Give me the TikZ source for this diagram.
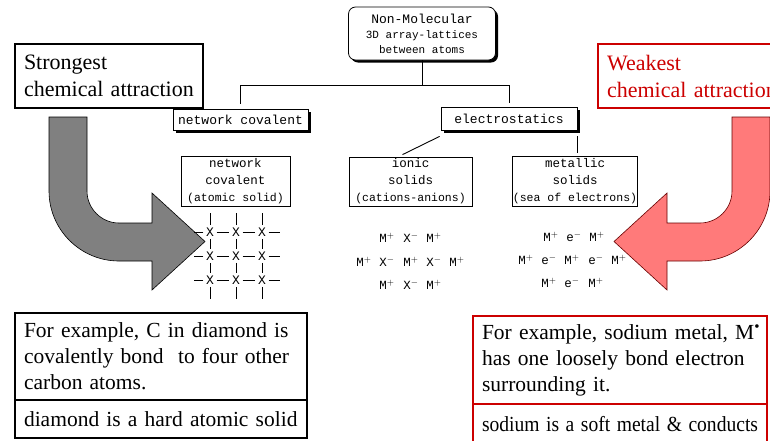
\documentclass[tikz,border=0pt]{standalone}
\usepackage{fontspec}
\setmainfont{Liberation Serif}
\newfontfamily\mono{Liberation Mono}
\usetikzlibrary{shadows}
\definecolor{alertred}{RGB}{204,0,0}
\definecolor{arrowred}{RGB}{255,122,122}
\definecolor{arrowgray}{RGB}{128,128,128}
\begin{document}
\begin{tikzpicture}[x=1pt,y=-1pt,
  shadowbox/.style={draw, fill=white, line width=0.8pt, inner sep=0pt,
    drop shadow={shadow xshift=2.5pt, shadow yshift=-2.5pt, fill=black, opacity=1}},
  catbox/.style={draw, line width=0.8pt, inner sep=0pt, align=center,
    font=\mono\fontsize{12.5}{17}\selectfont},
  headbox/.style={draw, line width=2pt, align=left, inner xsep=9pt,
    font=\fontsize{22}{27}\selectfont},
  notebox/.style={draw, line width=1.5pt, align=left, inner xsep=9pt,
    font=\fontsize{21.5}{26}\selectfont},
  lat/.style={font=\mono\fontsize{13}{13}\selectfont, inner sep=2.5pt},
  ion/.style={font=\mono\fontsize{12.5}{12.5}\selectfont, inner sep=0pt},
  bond/.style={line width=0.9pt},
  tree/.style={line width=0.9pt},
  bigarrow/.style={line width=0.6pt, line join=miter}]
\useasboundingbox (0,0) rectangle (770,440);
\clip (0,0) rectangle (770,440);

% curved block arrows
\path[bigarrow, draw=black, fill=arrowgray]
  (49,117) -- (49,191) .. controls (49,229.7) and (80.5,261) .. (119,261)
  -- (152,261) -- (152,290) -- (205,241.5) -- (152,193) -- (152,223)
  -- (119,223) .. controls (101.4,223) and (87,208.6) .. (87,191)
  -- (87,117) -- cycle;
\begin{scope}[xshift=819pt, xscale=-1]
\path[bigarrow, draw=black!60!red, fill=arrowred]
  (49,117) -- (49,191) .. controls (49,229.7) and (80.5,261) .. (119,261)
  -- (152,261) -- (152,290) -- (205,241.5) -- (152,193) -- (152,223)
  -- (119,223) .. controls (101.4,223) and (87,208.6) .. (87,191)
  -- (87,117) -- cycle;
\end{scope}

% classification tree
\node[shadowbox, rounded corners=7pt, minimum width=147pt, minimum height=53pt,
  align=center, font=\mono\fontsize{11}{15}\selectfont] (top) at (422,33.5)
  {{\fontsize{13}{15}\selectfont Non-Molecular}\\3D array-lattices\\between atoms};
\node[shadowbox, minimum width=135pt, minimum height=21pt,
  font=\mono\fontsize{13}{15}\selectfont] (nc) at (240.5,119.5) {network covalent};
\node[shadowbox, minimum width=136pt, minimum height=23pt,
  font=\mono\fontsize{13}{15}\selectfont] (es) at (509,118.5) {electrostatics};

\node[catbox, minimum width=109pt, minimum height=50pt] (ncs) at (235.5,181)
  {network\\covalent\\{\fontsize{11.5}{17}\selectfont(atomic solid)}};
\node[catbox, minimum width=123pt, minimum height=49pt] (ion) at (410.5,181.5)
  {ionic\\solids\\{\fontsize{11.5}{17}\selectfont(cations-anions)}};
\node[catbox, minimum width=124pt, minimum height=50pt] (met) at (575,181)
  {metallic\\solids\\{\fontsize{11.5}{17}\selectfont(sea of electrons)}};

\coordinate (j) at ([shift={(0,25)}]top.south);
\draw[tree] (top.south) -- (j);
\draw[tree] (nc.north |- j) -- (es.north |- j);
\draw[tree] (nc.north |- j) -- ([shift={(0,-5)}]nc.north);
\draw[tree] (es.north |- j) -- ([shift={(0,-4)}]es.north);
\draw[tree] ([shift={(-1,6)}]es.south west) -- ([shift={(-8,-2)}]ion.north);
\draw[tree] ([shift={(0,6)}]es.south east) -- ([shift={(0,-3)}]met.north -| es.south east);

% covalent lattice
\foreach \r/\y in {1/232,2/256,3/280}
  \foreach \c/\x in {1/210,2/236,3/262}
    \node[lat] (x\r\c) at (\x,\y) {X};
\foreach \r in {1,2,3} {
  \draw[bond] (x\r1) -- (x\r2);
  \draw[bond] (x\r2) -- (x\r3);
  \draw[bond] (x\r1.west) -- ++(-9,0);
  \draw[bond] (x\r3.east) -- ++(11,0);
}
\foreach \c in {1,2,3} {
  \draw[bond] (x1\c) -- (x2\c);
  \draw[bond] (x2\c) -- (x3\c);
  \draw[bond] (x1\c.north) -- ++(0,-12);
  \draw[bond] (x3\c.south) -- ++(0,12);
}

% ionic lattice
\foreach \x/\y/\t [count=\i] in {383/238/M, 407/238/X, 430/238/M,
    360/262/M, 383/262/X, 407/262/M, 430/262/X, 453/262/M,
    383/285/M, 407/285/X, 430/285/M}
  \node[ion] (ionic\i) at (\x,\y)
    {\if M\t M\rlap{$^{+}$}\else X\rlap{$^{-}$}\fi};

% metallic lattice
\foreach \x/\y/\t [count=\i] in {547/237/M, 570/237/e, 593/237/M,
    522/260/M, 545/260/e, 568/260/M, 592/260/e, 615/260/M,
    545/283/M, 568/283/e, 592/283/M}
  \node[ion] (metal\i) at (\x,\y)
    {\if M\t M\rlap{$^{+}$}\else e\rlap{$^{-}$}\fi};

% captions
\node[headbox, minimum width=188pt, minimum height=64pt, text width=170pt]
  (strong) at (109,76) {Strongest\\\mbox{chemical attraction}};
\node[headbox, draw=alertred, text=alertred, minimum width=200pt,
  minimum height=64pt, text width=182pt] (weak) at (698,76)
  {Weakest\\\mbox{chemical attraction}};

\node[notebox, text width=274pt, minimum height=87pt] (cex) at (161,356.5)
  {\mbox{For example, C in diamond is}\\\mbox{covalently bond\ \ to four other}\\carbon atoms.};
\node[notebox, text width=274pt, minimum height=38pt] (cnote) at (161,419)
  {\mbox{diamond is a hard atomic solid}};
\node[notebox, draw=alertred, text width=276pt, minimum height=88pt] (mex) at (620,360)
  {\mbox{For example, sodium metal, M\textsuperscript{•}}\\\mbox{has one loosely bond electron}\\surrounding it.};
\node[notebox, draw=alertred, text width=276pt, minimum height=40pt] (mnote) at (620,424)
  {\scalebox{0.91}[1]{sodium is a soft metal \& conducts}};
\end{tikzpicture}
\end{document}
